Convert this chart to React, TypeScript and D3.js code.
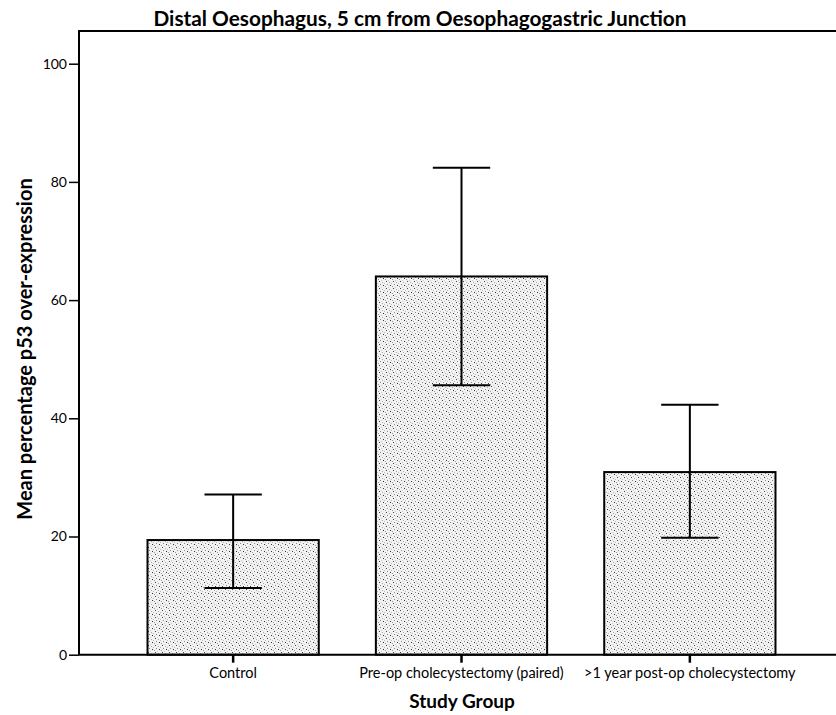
import React, { useEffect, useRef } from 'react';
import * as d3 from 'd3';

// Values
const categories = ["Control", "Pre-op cholecystectomy (paired)", ">1 year post-op cholecystectomy"];
const means = [19.4, 64.0, 30.9];
const lowerCI = [11.3, 45.6, 19.8];
const upperCI = [27.1, 82.4, 42.3];
const yTicks = [0, 20, 40, 60, 80, 100];

const App = () => {
    const ref = useRef(null);

    useEffect(() => {
        const svg = d3.select(ref.current);
        svg.selectAll("*").remove();

        const width = 836;
        const height = 715;
        const axisX = 79;
        const frameTop = 31;
        const font = "Lato, 'Open Sans', sans-serif";

        const x = d3.scaleBand()
            .domain(categories)
            .range([axisX, 844])
            .paddingInner(0.25)
            .paddingOuter(0.3);

        const y = d3.scaleLinear()
            .domain([0, 100])
            .range([654.7, 63.7]);

        svg.attr("viewBox", [0, 0, width, height]);

        // speckled fill for the bars
        const defs = svg.append("defs");
        const pat = defs.append("pattern")
            .attr("id", "speckle")
            .attr("patternUnits", "userSpaceOnUse")
            .attr("width", 7)
            .attr("height", 7);
        pat.append("rect").attr("width", 7).attr("height", 7).attr("fill", "#f2f2f2");
        const dots = [[1, 1, "#444"], [4, 2, "#aaa"], [2, 4, "#888"], [5, 5, "#333"], [6, 3, "#bbb"], [0, 6, "#999"], [3, 0, "#ccc"]];
        pat.selectAll("rect.d")
            .data(dots)
            .join("rect")
            .attr("class", "d")
            .attr("x", d => d[0])
            .attr("y", d => d[1])
            .attr("width", 1)
            .attr("height", 1)
            .attr("fill", d => d[2]);

        // title
        svg.append("text")
            .attr("x", 420)
            .attr("y", 26)
            .attr("text-anchor", "middle")
            .attr("font-family", font)
            .attr("font-weight", "bold")
            .attr("font-size", 20.8)
            .text("Distal Oesophagus, 5 cm from Oesophagogastric Junction");

        // bars
        svg.append("g")
            .selectAll("rect")
            .data(categories)
            .join("rect")
            .attr("x", d => x(d))
            .attr("y", (d, i) => y(means[i]))
            .attr("width", x.bandwidth())
            .attr("height", (d, i) => y(0) - y(means[i]))
            .attr("fill", "url(#speckle)")
            .attr("stroke", "#000")
            .attr("stroke-width", 2);

        // error bars
        const capW = x.bandwidth() * 0.335;
        const eb = svg.append("g").attr("stroke", "#000").attr("stroke-width", 2);
        categories.forEach((c, i) => {
            const cx = x(c) + x.bandwidth() / 2;
            eb.append("line").attr("x1", cx).attr("x2", cx).attr("y1", y(lowerCI[i])).attr("y2", y(upperCI[i]));
            eb.append("line").attr("x1", cx - capW / 2).attr("x2", cx + capW / 2).attr("y1", y(upperCI[i])).attr("y2", y(upperCI[i]));
            eb.append("line").attr("x1", cx - capW / 2).attr("x2", cx + capW / 2).attr("y1", y(lowerCI[i])).attr("y2", y(lowerCI[i]));
        });

        // frame: left axis, top line, bottom axis
        svg.append("path")
            .attr("d", `M${axisX},${y(0)}V${frameTop}H${width}`)
            .attr("fill", "none")
            .attr("stroke", "#000")
            .attr("stroke-width", 2);
        svg.append("line")
            .attr("x1", axisX).attr("x2", width)
            .attr("y1", y(0)).attr("y2", y(0))
            .attr("stroke", "#000").attr("stroke-width", 2);

        // y axis ticks
        svg.append("g")
            .attr("transform", `translate(${axisX},0)`)
            .call(d3.axisLeft(y).tickValues(yTicks).tickSize(10).tickPadding(2).tickFormat(d3.format("d")))
            .call(g => g.select(".domain").remove())
            .call(g => g.selectAll("line").attr("stroke-width", 1.5))
            .call(g => g.selectAll("text")
                .attr("font-family", font)
                .attr("font-size", 14)
                .attr("fill", "#000"));

        // x axis ticks
        svg.append("g")
            .attr("transform", `translate(0,${y(0)})`)
            .call(d3.axisBottom(x).tickSize(8).tickPadding(5))
            .call(g => g.select(".domain").remove())
            .call(g => g.selectAll("line").attr("stroke-width", 2.5))
            .call(g => g.selectAll("text")
                .attr("font-family", font)
                .attr("font-size", 14.5)
                .attr("fill", "#000"));

        // axis titles
        svg.append("text")
            .attr("x", 462)
            .attr("y", 708)
            .attr("text-anchor", "middle")
            .attr("font-family", font)
            .attr("font-weight", "bold")
            .attr("font-size", 19)
            .text("Study Group");

        svg.append("text")
            .attr("transform", "translate(32,349) rotate(-90)")
            .attr("text-anchor", "middle")
            .attr("font-family", font)
            .attr("font-weight", "bold")
            .attr("font-size", 20)
            .text("Mean percentage p53 over-expression");
    }, []);

    return (
        <svg ref={ref} width={836} height={715} style={{ position: 'absolute', left: 0, top: 0, background: '#fff' }} />
    );
};

export default App;
